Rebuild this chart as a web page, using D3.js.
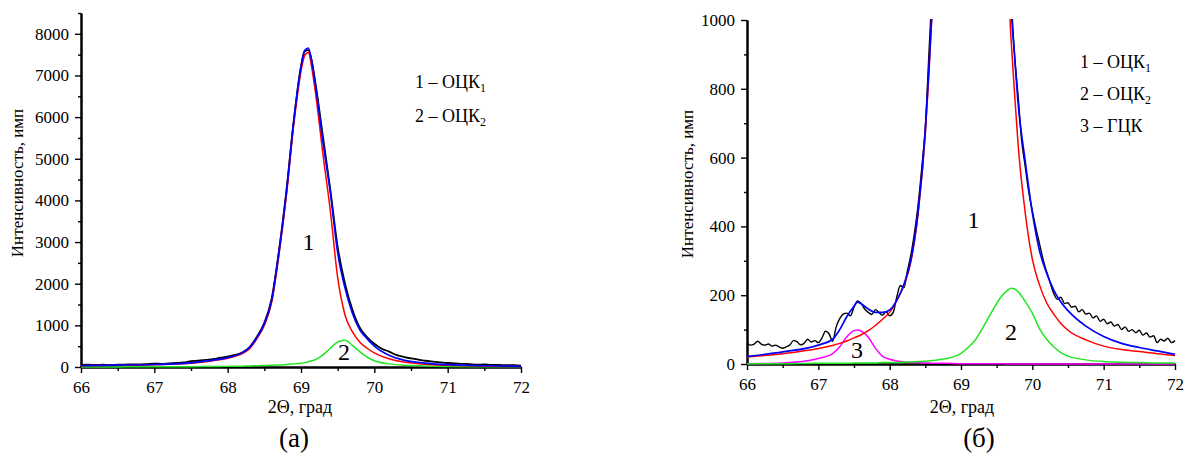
<!DOCTYPE html>
<html>
<head>
<meta charset="utf-8">
<script src="https://cdn.jsdelivr.net/npm/d3@7"></script>
<style>
  body { margin: 0; background: #fff; }
  svg text { font-family: "Liberation Serif", "Times New Roman", serif; fill: #000; }
</style>
</head>
<body>
<svg id="chart" width="1184" height="455"></svg>
<script>
// ---- panel (а): 0..8500 counts ----
const xFitA = [66, 66.5, 67, 67.5, 67.8, 68, 68.2, 68.3, 68.4, 68.5, 68.6, 68.7, 68.8, 68.9, 69, 69.05, 69.1, 69.15, 69.2, 69.3, 69.4, 69.5, 69.6, 69.7, 69.8, 69.9, 70, 70.2, 70.4, 70.6, 70.8, 71, 71.5, 72];
const redA = [30, 40, 55, 90, 150, 210, 320, 440, 680, 1000, 1550, 2700, 4100, 5800, 7100, 7480, 7550, 7150, 6550, 5100, 3750, 2150, 1250, 850, 600, 450, 340, 200, 120, 80, 55, 40, 22, 12];
const greenA = [2, 3, 5, 8, 12, 15, 20, 25, 30, 35, 42, 50, 60, 75, 90, 105, 125, 150, 180, 290, 450, 600, 640, 520, 370, 240, 150, 75, 42, 28, 18, 13, 7, 4];
const blueA = [35, 45, 60, 100, 165, 225, 345, 470, 715, 1040, 1600, 2760, 4170, 5880, 7200, 7600, 7660, 7300, 6730, 5400, 4200, 2750, 1900, 1300, 900, 680, 500, 280, 165, 110, 75, 55, 30, 17];

const xDataA = [66, 66.1, 66.2, 66.3, 66.4, 66.5, 66.6, 66.7, 66.8, 66.9, 67, 67.1, 67.2, 67.3, 67.4, 67.5, 67.6, 67.7, 67.8, 67.9, 68,
  68.1, 68.2, 68.3, 68.4, 68.5, 68.6, 68.7, 68.8, 68.9, 69, 69.05, 69.1, 69.15, 69.2,
  69.3, 69.4, 69.5, 69.6, 69.7, 69.8, 69.9, 70, 70.1, 70.2, 70.3, 70.4, 70.5, 70.6, 70.7, 70.8, 70.9, 71, 71.1, 71.2, 71.3, 71.4, 71.5, 71.6, 71.7, 71.8, 71.9, 72];
const dataA = [50, 56, 48, 54, 50, 55, 58, 62, 60, 70, 80, 76, 88, 98, 110, 140, 150, 172, 190, 222, 250,
  290, 350, 480, 730, 1060, 1640, 2800, 4220, 5900, 7220, 7580, 7610, 7320, 6780,
  5520, 4250, 2880, 2000, 1380, 950, 720, 560, 440, 370, 290, 245, 205, 178, 150, 128, 112, 96, 88, 76, 70, 58, 60, 50, 52, 42, 44, 35];

// ---- panel (б): zoomed to 0..1000 counts ----
const xFitB = [66, 66.5, 67, 67.2, 67.3, 67.4, 67.5, 67.55, 67.6, 67.7, 67.8, 67.9, 68, 68.1, 68.2, 68.3, 68.4, 68.5, 68.55, 68.6,
  68.7, 68.8, 69, 69.1, 69.2, 69.4, 69.55, 69.65, 69.7, 69.75, 69.8, 69.9, 70, 70.1, 70.2, 70.3, 70.4, 70.5, 70.75, 71, 71.25, 71.5, 71.75, 72];
const redB = [20, 30, 45, 54, 60, 67, 76, 80, 85, 97, 112, 130, 150, 185, 228, 300, 440, 670, 840, 1050,
  1700, 2800, 6500, 7500, 6500, 3200, 1700, 1150, 950, 790, 640, 440, 305, 230, 178, 145, 118, 98, 70, 52, 42, 36, 30, 25];
const greenB = [1, 1, 2, 2, 2, 2, 3, 3, 3, 3, 3, 4, 4, 4, 5, 6, 7, 8, 9, 10,
  13, 16, 31, 48, 70, 140, 192, 214, 220, 218, 210, 182, 148, 103, 72, 50, 33, 23, 12, 7, 5, 4, 3, 3];
const magentaB = [1, 3, 16, 30, 50, 79, 97, 99, 96, 78, 46, 22, 14, 9, 6, 5, 4, 3, 3, 2,
  2, 2, 1, 1, 1, 1, 1, 0, 0, 0, 0, 0, 0, 0, 0, 0, 0, 0, 0, 0, 0, 0, 0, 0];
const blueB = [22, 35, 55, 72, 100, 138, 168, 180, 175, 160, 150, 150, 157, 185, 232, 305, 445, 680, 860, 1060,
  1720, 2830, 6540, 7560, 6580, 3350, 1900, 1370, 1050, 900, 760, 590, 440, 330, 265, 215, 180, 155, 110, 80, 60, 48, 38, 28];

const xDataB = [66, 66.05, 66.1, 66.15, 66.2, 66.25, 66.3, 66.35, 66.4, 66.45, 66.5, 66.55, 66.6, 66.65, 66.7, 66.75, 66.8, 66.85, 66.9, 66.95,
  67, 67.05, 67.1, 67.15, 67.2, 67.25, 67.3, 67.35, 67.4, 67.45, 67.5, 67.55, 67.6, 67.65, 67.7, 67.75, 67.8, 67.85, 67.9, 67.95,
  68, 68.05, 68.1, 68.15, 68.2, 68.25, 68.3, 68.35, 68.4, 68.45, 68.5, 68.55, 68.6, 68.65, 68.7,
  69.1,
  69.6, 69.65, 69.7, 69.75, 69.8, 69.85, 69.9, 69.95, 70, 70.05, 70.1, 70.15, 70.2, 70.25, 70.3, 70.35, 70.4, 70.45, 70.5, 70.55,
  70.6, 70.65, 70.7, 70.75, 70.8, 70.85, 70.9, 70.95, 71, 71.05, 71.1, 71.15, 71.2, 71.25, 71.3, 71.35, 71.4, 71.45, 71.5, 71.55,
  71.6, 71.65, 71.7, 71.75, 71.8, 71.85, 71.9, 71.95, 72];
const dataB = [62, 55, 58, 66, 58, 55, 58, 52, 55, 50, 46, 50, 55, 68, 65, 56, 60, 72, 64, 68,
  62, 75, 95, 88, 66, 108, 132, 145, 148, 140, 165, 183, 176, 160, 150, 144, 158, 150, 142, 152,
  140, 150, 195, 228, 222, 272, 320, 385, 465, 570, 690, 900, 1120, 1450, 1850,
  7600,
  1650, 1300, 1080, 900, 780, 650, 575, 500, 445, 395, 350, 305, 268, 236, 205, 188, 194, 176, 178, 165,
  168, 152, 158, 145, 148, 134, 140, 124, 130, 117, 122, 110, 115, 100, 108, 95, 100, 91, 98, 84,
  90, 78, 82, 62, 72, 67, 75, 62, 68];

const xTicks = [66, 67, 68, 69, 70, 71, 72];
const xMinor = [66.5, 67.5, 68.5, 69.5, 70.5, 71.5];
const yTicksA = [0, 1000, 2000, 3000, 4000, 5000, 6000, 7000, 8000];
const yMinorA = [500, 1500, 2500, 3500, 4500, 5500, 6500, 7500, 8500];
const yTicksB = [0, 200, 400, 600, 800, 1000];
const yMinorB = [100, 300, 500, 700, 900];

const SERIF = 'Liberation Serif, Times New Roman, serif';
const svg = d3.select('#chart').attr('font-family', SERIF);

function zip(xs, ys) {
    return xs.map((v, i) => [v, ys[i]]);
}

function drawPanel(p) {
    const x = d3.scaleLinear().domain([66, 72]).range(p.xRange);
    const y = d3.scaleLinear().domain([0, p.yMax]).range(p.yRange);
    const fmt = d3.format('d');
    const g = svg.append('g');

    // axes: minor ticks first, then major ones with labels
    g.append('g').attr('transform', 'translate(0,' + p.yRange[0] + ')')
        .call(d3.axisBottom(x).tickValues(xMinor).tickSize(4).tickFormat('').tickSizeOuter(0));
    g.append('g').attr('transform', 'translate(0,' + p.yRange[0] + ')')
        .call(d3.axisBottom(x).tickValues(xTicks).tickFormat(fmt).tickSize(6).tickPadding(8).tickSizeOuter(0));

    g.append('g').attr('transform', 'translate(' + p.xRange[0] + ',0)')
        .call(d3.axisLeft(y).tickValues(p.yMinor).tickSize(3).tickFormat('').tickSizeOuter(0));
    g.append('g').attr('transform', 'translate(' + p.xRange[0] + ',0)')
        .call(d3.axisLeft(y).tickValues(p.yTicks).tickFormat(fmt).tickSize(6).tickPadding(6).tickSizeOuter(0));

    g.selectAll('g').attr('font-family', SERIF).attr('font-size', 17);
    g.selectAll('.domain').attr('stroke', '#000').attr('stroke-width', 2);
    g.selectAll('.tick line').attr('stroke', '#000').attr('stroke-width', 1.4);
    g.selectAll('.tick text').attr('font-family', SERIF).attr('font-size', 17).attr('fill', '#000');

    // curves, clipped to the plot box
    const clipId = 'clip' + p.id;
    svg.append('clipPath').attr('id', clipId).append('rect')
        .attr('x', p.xRange[0]).attr('y', p.yRange[1] - 1)
        .attr('width', p.xRange[1] - p.xRange[0] + 2)
        .attr('height', p.yRange[0] - p.yRange[1] + 3);

    const line = d3.line()
        .x(d => x(d[0]))
        .y(d => y(d[1]))
        .curve(d3.curveMonotoneX);

    const curves = g.append('g').attr('clip-path', 'url(#' + clipId + ')');
    p.series.forEach(function(s) {
        curves.append('path')
            .datum(s.points)
            .attr('d', line)
            .attr('fill', 'none')
            .attr('stroke', s.color)
            .attr('stroke-width', s.width || 1.5)
            .attr('stroke-linejoin', 'round');
    });

    // axis titles
    g.append('text')
        .attr('transform', 'translate(' + p.yTitleX + ',' + p.yTitleY + ') rotate(-90)')
        .attr('text-anchor', 'middle')
        .attr('font-family', SERIF)
        .attr('font-size', 17)
        .text('Интенсивность, имп');
    g.append('text')
        .attr('x', p.xTitleX).attr('y', 413)
        .attr('text-anchor', 'middle')
        .attr('font-family', SERIF)
        .attr('font-size', 18)
        .text('2Θ, град');
    g.append('text')
        .attr('x', p.captionX).attr('y', 447)
        .attr('text-anchor', 'middle')
        .attr('font-family', SERIF)
        .attr('font-size', 27)
        .text(p.caption);

    // legend lines
    p.legend.forEach(function(l, i) {
        const t = g.append('text')
            .attr('x', p.legendX).attr('y', p.legendY + i * p.legendStep)
            .attr('font-family', SERIF)
            .attr('font-size', 18);
        t.append('tspan').text(l[0]);
        if (l[1]) {
            t.append('tspan').attr('dy', 4).attr('font-size', 12).text(l[1]);
        }
    });

    // numbers next to the peaks
    p.marks.forEach(function(m) {
        g.append('text')
            .attr('x', m[1]).attr('y', m[2])
            .attr('text-anchor', 'middle')
            .attr('font-family', SERIF)
            .attr('font-size', 24)
            .text(m[0]);
    });
}

drawPanel({
    id: 'A',
    xRange: [81, 521],
    yRange: [367, 13],
    yMax: 8500,
    yTicks: yTicksA,
    yMinor: yMinorA,
    yTitleX: 23, yTitleY: 183,
    xTitleX: 300,
    caption: '(а)', captionX: 294,
    legendX: 415, legendY: 88, legendStep: 34,
    legend: [['1 – ОЦК', '1'], ['2 – ОЦК', '2']],
    marks: [['1', 308.5, 250], ['2', 344, 360]],
    series: [
        {points: zip(xDataA, dataA), color: '#000', width: 1.8},
        {points: zip(xFitA, greenA), color: '#22e622'},
        {points: zip(xFitA, redA), color: '#ff0000'},
        {points: zip(xFitA, blueA), color: '#0000ff', width: 1.7}
    ]
});

drawPanel({
    id: 'B',
    xRange: [747, 1175],
    yRange: [364, 20],
    yMax: 1000,
    yTicks: yTicksB,
    yMinor: yMinorB,
    yTitleX: 693, yTitleY: 184,
    xTitleX: 962,
    caption: '(б)', captionX: 979,
    legendX: 1080, legendY: 68, legendStep: 32,
    legend: [['1 – ОЦК', '1'], ['2 – ОЦК', '2'], ['3 – ГЦК', null]],
    marks: [['1', 973.5, 228], ['2', 1011, 340], ['3', 857, 358]],
    series: [
        {points: zip(xDataB, dataB), color: '#000', width: 1.4},
        {points: zip(xFitB, magentaB), color: '#ff00ff'},
        {points: zip(xFitB, greenB), color: '#22e622'},
        {points: zip(xFitB, redB), color: '#ff0000'},
        {points: zip(xFitB, blueB), color: '#0000ff', width: 1.7}
    ]
});
</script>
</body>
</html>
